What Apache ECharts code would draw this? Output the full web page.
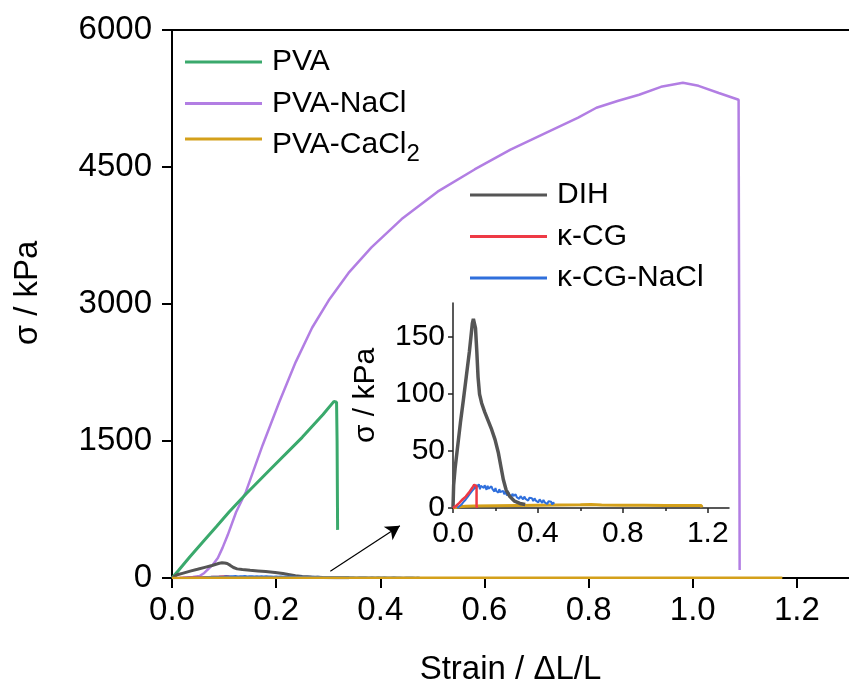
<!DOCTYPE html>
<html>
<head>
<meta charset="utf-8">
<script src="https://cdn.jsdelivr.net/npm/echarts@6/dist/echarts.min.js"></script>
<style>
  html, body { margin: 0; padding: 0; background: #ffffff; }
  #chart { width: 849px; height: 691px; }
</style>
</head>
<body>
<div id="chart"></div>
<script>
// Stress–strain curves: [strain ΔL/L, stress kPa]
const pva = [[0,0],[0.012,80],[0.034,230],[0.06,400],[0.085,560],[0.11,725],[0.142,920],[0.187,1180],[0.25,1540],[0.29,1790],[0.311,1934],[0.316,1925],[0.317,1500],[0.318,527]];
const pvaNaCl = [[0,0],[0.02,3],[0.04,10],[0.053,22],[0.062,55],[0.07,100],[0.079,150],[0.088,220],[0.097,330],[0.107,470],[0.123,720],[0.142,945],[0.174,1454],[0.206,1927],[0.2375,2364],[0.269,2740],[0.301,3040],[0.339,3340],[0.383,3620],[0.441,3930],[0.51,4230],[0.581,4473],[0.65,4690],[0.72,4880],[0.78,5040],[0.815,5149],[0.857,5225],[0.897,5291],[0.939,5378],[0.981,5422],[1.011,5389],[1.05,5310],[1.088,5236],[1.089,3000],[1.09,87]];
const pvaCaCl2 = [[0,0],[0.03,1],[0.06,1.5],[0.1,1.8],[0.2,2],[0.3,2.2],[0.4,2.4],[0.5,2.6],[0.6,2.8],[0.65,3],[0.7,2.7],[0.8,2.5],[0.9,2.4],[1.0,2.3],[1.1,2.2],[1.17,2.1],[1.172,0.5]];
const dih = [[0,0],[0.003,20],[0.01,35],[0.02,51],[0.035,75],[0.049,95],[0.063,116],[0.077,137],[0.086,153],[0.091,162],[0.096,166],[0.101,165],[0.106,158],[0.112,138],[0.118,115],[0.125,100],[0.135,92],[0.15,84],[0.165,77],[0.18,70],[0.198,60],[0.213,49],[0.226,36],[0.237,25],[0.25,16],[0.268,10],[0.29,6],[0.315,4],[0.34,3]];
const kCG = [[0,0],[0.015,2],[0.03,4.5],[0.045,7.5],[0.06,10],[0.075,13.5],[0.09,17.5],[0.1,20.5],[0.104,21],[0.109,20],[0.111,19],[0.111,2],[0.113,0]];
const kCGNaCl = [[0.02,0],[0.03,1.5],[0.04,3],[0.05,5.5],[0.06,7.5],[0.07,10],[0.08,12.5],[0.09,15],[0.1,17],[0.104,19.5],[0.108,17],[0.113,20.5],[0.117,18.5],[0.122,21],[0.127,16.5],[0.131,19.5],[0.136,18],[0.14,21],[0.145,17.5],[0.149,20],[0.154,18.5],[0.158,16],[0.163,19.5],[0.167,17],[0.172,18.5],[0.176,15.5],[0.181,19],[0.186,16.5],[0.19,17.5],[0.195,14.5],[0.2,17.5],[0.204,15],[0.209,16],[0.214,13.5],[0.218,16.5],[0.223,14],[0.227,15.5],[0.232,12.5],[0.237,15],[0.241,12],[0.246,14.5],[0.25,13],[0.255,11],[0.26,14],[0.265,11.5],[0.27,13],[0.275,10],[0.28,12.5],[0.285,10.5],[0.29,9],[0.295,12],[0.3,9.5],[0.306,11],[0.312,8],[0.318,10.5],[0.324,9],[0.33,7.5],[0.336,10],[0.342,8],[0.348,9.5],[0.354,6.5],[0.36,9],[0.366,7.5],[0.372,8.5],[0.378,6],[0.384,8.5],[0.39,6.5],[0.396,7.5],[0.402,5],[0.408,7.5],[0.414,6],[0.42,4.5],[0.426,7],[0.432,5],[0.438,6],[0.444,3.5],[0.45,6],[0.456,4.5],[0.462,5.5],[0.468,3],[0.472,5],[0.476,3.5]];

// Tick values
const mainXTicks = [0, 0.2, 0.4, 0.6, 0.8, 1.0, 1.2];
const mainYTicks = [0, 1500, 3000, 4500, 6000];
const insetXTicks = [0, 0.4, 0.8, 1.2];
const insetXMinor = [0.2, 0.6, 1.0];
const insetYTicks = [0, 50, 100, 150];

// Arrow pointing from the low-stress curves to the zoomed view (data units)
const arrowFrom = [0.304, 73];
const arrowTo = [0.4375, 571];

const FONT = "'Liberation Sans', Arial, sans-serif";
const C = {
  pva: '#3aa96c', nacl: '#b27ee3', cacl: '#d4a01a',
  dih: '#555555', kcg: '#ee3a45', kcgn: '#2f6fdc'
};

const chart = echarts.init(document.getElementById('chart'), null, { renderer: 'canvas' });

function line(name, data, color, width, xi, yi, extra) {
  return Object.assign({
    name: name, type: 'line', data: data, xAxisIndex: xi, yAxisIndex: yi,
    showSymbol: false, symbol: 'none', color: color,
    lineStyle: { color: color, width: width }, animation: false, z: 3
  }, extra || {});
}

const axisBlack = { show: true, lineStyle: { color: '#000', width: 2 } };
const legendBase = {
  orient: 'vertical', icon: 'rect', itemWidth: 77, itemHeight: 3, itemGap: 11.5, padding: 0
};
const legendText = { fontFamily: FONT, fontSize: 30, color: '#000', lineHeight: 30, padding: [0, 0, 0, 5] };

chart.setOption({
  backgroundColor: '#ffffff',
  animation: false,
  textStyle: { fontFamily: FONT },
  grid: [
    { left: 172, top: 30, right: -5, bottom: 111 },
    { left: 453, top: 303, width: 276, bottom: 183 }
  ],
  legend: [
    Object.assign({ data: ['PVA', 'PVA-NaCl'], left: 185, top: 47, textStyle: legendText }, legendBase),
    Object.assign({
      data: ['PVA-CaCl2'], left: 185, top: 124,
      formatter: function () { return '{b|PVA-CaCl}{sub|2}'; },
      textStyle: Object.assign({}, legendText, {
        rich: {
          b: { fontFamily: FONT, fontSize: 30, color: '#000', lineHeight: 30, verticalAlign: 'top', padding: [6, 0, 0, 0] },
          sub: { fontFamily: FONT, fontSize: 24, color: '#000', lineHeight: 24, verticalAlign: 'top', padding: [18, 0, 0, 0] }
        }
      })
    }, legendBase),
    Object.assign({ data: ['DIH', 'κ-CG', 'κ-CG-NaCl'], left: 470, top: 180, textStyle: legendText }, legendBase)
  ],
  xAxis: [
    {
      gridIndex: 0, type: 'value', min: 0, max: 1.3, interval: 0.2,
      name: 'Strain / ΔL/L', nameLocation: 'middle', nameGap: 75,
      nameTextStyle: { fontFamily: FONT, fontSize: 33, color: '#000' },
      axisLine: axisBlack,
      axisTick: { show: true, inside: false, length: 10, customValues: mainXTicks, lineStyle: { color: '#000', width: 2 } },
      axisLabel: { customValues: mainXTicks, margin: 16, fontFamily: FONT, fontSize: 33, color: '#000',
        formatter: function (v) { return v.toFixed(1); } },
      splitLine: { show: false }
    },
    {
      gridIndex: 0, type: 'value', position: 'top', min: 0, max: 1.3,
      axisLine: axisBlack, axisTick: { show: false }, axisLabel: { show: false }, splitLine: { show: false }
    },
    {
      gridIndex: 1, type: 'value', min: 0, max: 1.3, interval: 0.2,
      axisLine: { show: true, lineStyle: { color: '#222', width: 1.5 } },
      axisTick: { show: true, length: 5, customValues: insetXTicks, lineStyle: { color: '#222', width: 1.5 } },
      axisLabel: { customValues: insetXTicks, margin: 11, fontFamily: FONT, fontSize: 30, color: '#000',
        formatter: function (v) { return v.toFixed(1); } },
      splitLine: { show: false }
    },
    {
      // minor ticks of the inset x-axis
      gridIndex: 1, type: 'value', min: 0, max: 1.3, position: 'bottom',
      axisLine: { show: false },
      axisTick: { show: true, length: 3, customValues: insetXMinor, lineStyle: { color: '#222', width: 1.5 } },
      axisLabel: { show: false }, splitLine: { show: false }
    }
  ],
  yAxis: [
    {
      gridIndex: 0, type: 'value', min: 0, max: 6000, interval: 1500,
      name: 'σ / kPa', nameLocation: 'middle', nameGap: 128, nameRotate: 90,
      nameTextStyle: { fontFamily: FONT, fontSize: 33, color: '#000', padding: [0, 0, 0, 22] },
      axisLine: axisBlack,
      axisTick: { show: true, length: 10, customValues: mainYTicks, lineStyle: { color: '#000', width: 2 } },
      axisLabel: { customValues: mainYTicks, margin: 20, fontFamily: FONT, fontSize: 33, color: '#000',
        formatter: function (v) { return String(v); } },
      splitLine: { show: false }
    },
    {
      gridIndex: 1, type: 'value', min: 0, max: 180, interval: 50,
      name: 'σ / kPa', nameLocation: 'middle', nameGap: 72, nameRotate: 90,
      nameTextStyle: { fontFamily: FONT, fontSize: 30, color: '#000', padding: [0, 0, 0, 20] },
      axisLine: { show: true, lineStyle: { color: '#222', width: 1.5 } },
      axisTick: { show: true, length: 5, customValues: insetYTicks, lineStyle: { color: '#222', width: 1.5 } },
      axisLabel: { customValues: insetYTicks, margin: 8, fontFamily: FONT, fontSize: 30, color: '#000',
        formatter: function (v) { return String(v); } },
      splitLine: { show: false }
    }
  ],
  series: [
    line('PVA-NaCl', pvaNaCl, C.nacl, 2.5, 0, 0),
    line('PVA', pva, C.pva, 3, 0, 0),
    line('DIH', dih, C.dih, 3, 0, 0),
    line('κ-CG', kCG, C.kcg, 2, 0, 0),
    line('κ-CG-NaCl', kCGNaCl, C.kcgn, 2, 0, 0),
    line('PVA-CaCl2', pvaCaCl2, C.cacl, 2.5, 0, 0, {
      markLine: {
        silent: true, symbol: ['none', 'arrow'], symbolSize: [12, 14],
        label: { show: false },
        lineStyle: { color: '#000', width: 1.2, type: 'solid' },
        data: [[{ coord: arrowFrom }, { coord: arrowTo }]]
      }
    }),
    line('PVA-CaCl2', pvaCaCl2, C.cacl, 3, 2, 1),
    line('κ-CG-NaCl', kCGNaCl, C.kcgn, 2, 2, 1),
    line('DIH', dih, C.dih, 3.5, 2, 1),
    line('κ-CG', kCG, C.kcg, 2.5, 2, 1)
  ]
});
</script>
</body>
</html>
